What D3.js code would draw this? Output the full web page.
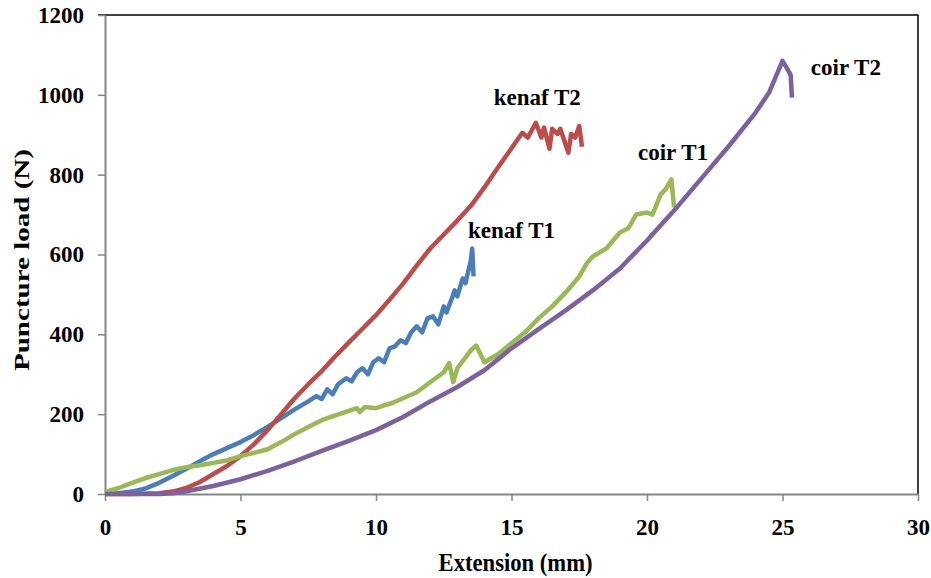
<!DOCTYPE html>
<html>
<head>
<meta charset="utf-8">
<script src="https://cdn.jsdelivr.net/npm/d3@7"></script>
<style>
  body { margin: 0; background: #fff; }
  text { font-family: "Liberation Serif", "Times New Roman", serif; font-weight: bold; fill: #000; }
</style>
</head>
<body>
<div id="chart"></div>
<script>
// Puncture load vs extension
const xTicks = [0, 5, 10, 15, 20, 25, 30];
const yTicks = [0, 200, 400, 600, 800, 1000, 1200];

const kenafT1 = [[0,0],[0.5,2],[1,6],[1.5,14],[2,28],[2.5,45],[3,63],[3.5,82],[4,100],[4.5,115],[5,130],[5.5,148],[6,168],[6.5,190],[7,212],[7.5,232],[7.8,245],[8,238],[8.2,262],[8.4,250],[8.6,275],[8.9,290],[9.1,282],[9.3,305],[9.5,315],[9.7,300],[9.9,330],[10.1,340],[10.3,330],[10.5,365],[10.7,370],[10.9,385],[11.1,378],[11.3,405],[11.5,420],[11.7,405],[11.9,440],[12.1,445],[12.3,425],[12.5,470],[12.6,455],[12.8,490],[12.9,510],[13.0,495],[13.2,540],[13.3,528],[13.5,585],[13.55,615],[13.6,545]];

const kenafT2 = [[0,0],[1,0],[2,2],[2.5,6],[3,15],[3.5,30],[4,50],[4.5,70],[5,95],[5.5,125],[6,160],[6.5,200],[7,240],[7.5,275],[8,308],[8.5,345],[9,380],[9.5,414],[10,448],[10.5,487],[11,527],[11.5,572],[12,615],[12.5,650],[13,685],[13.5,722],[14,768],[14.5,818],[15,866],[15.4,905],[15.6,893],[15.9,930],[16.1,893],[16.2,918],[16.4,865],[16.5,915],[16.7,902],[16.8,915],[17.1,855],[17.2,902],[17.35,893],[17.5,922],[17.6,870]];

const coirT1 = [[0,5],[0.5,15],[1,28],[1.5,40],[2,50],[2.5,60],[3,67],[3.5,72],[4,78],[4.5,84],[5,95],[5.5,103],[6,112],[6.5,130],[7,150],[7.5,168],[8,185],[8.5,197],[9,208],[9.3,215],[9.4,205],[9.6,218],[10,215],[10.3,222],[10.6,228],[11,240],[11.5,255],[12,280],[12.5,305],[12.7,328],[12.85,280],[13.0,315],[13.5,360],[13.7,372],[14.0,330],[14.5,350],[15,378],[15.5,405],[16,440],[16.5,470],[17,505],[17.5,545],[17.8,580],[18,595],[18.5,615],[19,655],[19.3,665],[19.6,700],[20,705],[20.2,700],[20.5,750],[20.7,765],[20.9,788],[21.0,718]];

const coirT2 = [[0,0],[1,0],[2,0],[2.5,2],[3,7],[4,20],[5,37],[6,58],[7,82],[8,108],[9,133],[10,160],[11,193],[12,232],[13,268],[14,310],[15,365],[16,413],[17,460],[18,510],[19,565],[20,635],[21,710],[22,790],[23,870],[24,955],[24.5,1005],[25,1085],[25.15,1068],[25.3,1050],[25.35,993]];

const seriesNames = ["kenaf T1", "kenaf T2", "coir T1", "coir T2"];
const seriesColors = ["#4a7ebb", "#be4b48", "#98b954", "#7d60a0"];
const seriesData = [kenafT1, kenafT2, coirT1, coirT2];
// label anchor points in data units (x, y)
const labelPos = [[15.0, 642], [15.95, 975], [20.96, 837], [27.34, 1050]];

const W = 931, H = 578;
const margin = { top: 15, right: 13, bottom: 84, left: 105 };
const width = W - margin.left - margin.right;
const height = H - margin.top - margin.bottom;

const svg = d3.select("#chart").append("svg")
    .attr("width", W)
    .attr("height", H);

const g = svg.append("g").attr("transform", `translate(${margin.left},${margin.top})`);

const x = d3.scaleLinear().domain([0, 30]).range([0, width]);
const y = d3.scaleLinear().domain([0, 1200]).range([height, 0]);

// plot frame: top and right in black
g.append("line").attr("x1", -7).attr("x2", width).attr("y1", 0).attr("y2", 0)
    .attr("stroke", "#000").attr("stroke-width", 1.5);
g.append("line").attr("x1", width).attr("x2", width).attr("y1", 0).attr("y2", height)
    .attr("stroke", "#000").attr("stroke-width", 1.5);

const xAxis = g.append("g").attr("transform", `translate(0,${height})`)
    .call(d3.axisBottom(x).tickValues(xTicks).tickFormat(d3.format("d")).tickSize(7).tickSizeOuter(0).tickPadding(18));
const yAxis = g.append("g")
    .call(d3.axisLeft(y).tickValues(yTicks).tickFormat(d3.format("d")).tickSize(7).tickSizeOuter(0).tickPadding(14));

[xAxis, yAxis].forEach(a => {
    a.select(".domain").attr("stroke", "#868686").attr("stroke-width", 2);
    a.selectAll(".tick line").attr("stroke", "#868686").attr("stroke-width", 1.5);
    a.selectAll(".tick text").style("font-size", "23px").style("font-family", "Liberation Serif").style("font-weight", "bold");
});

const line = d3.line().x(d => x(d[0])).y(d => y(d[1]));

seriesData.forEach((data, i) => {
    g.append("path").datum(data)
        .attr("fill", "none")
        .attr("stroke", seriesColors[i])
        .attr("stroke-width", 4.5)
        .attr("stroke-linejoin", "round")
        .attr("d", line);
});

seriesNames.forEach((name, i) => {
    g.append("text")
        .attr("x", x(labelPos[i][0]))
        .attr("y", y(labelPos[i][1]))
        .attr("text-anchor", "middle")
        .style("font-size", "23px")
        .text(name);
});

// axis titles
svg.append("text")
    .attr("x", margin.left + x(15.15))
    .attr("y", 571)
    .attr("text-anchor", "middle")
    .attr("textLength", 154)
    .attr("lengthAdjust", "spacingAndGlyphs")
    .style("font-size", "26px")
    .text("Extension (mm)");

svg.append("text")
    .attr("transform", `translate(29,260) rotate(-90)`)
    .attr("text-anchor", "middle")
    .attr("textLength", 222)
    .attr("lengthAdjust", "spacingAndGlyphs")
    .style("font-size", "22px")
    .text("Puncture load (N)");
</script>
</body>
</html>
